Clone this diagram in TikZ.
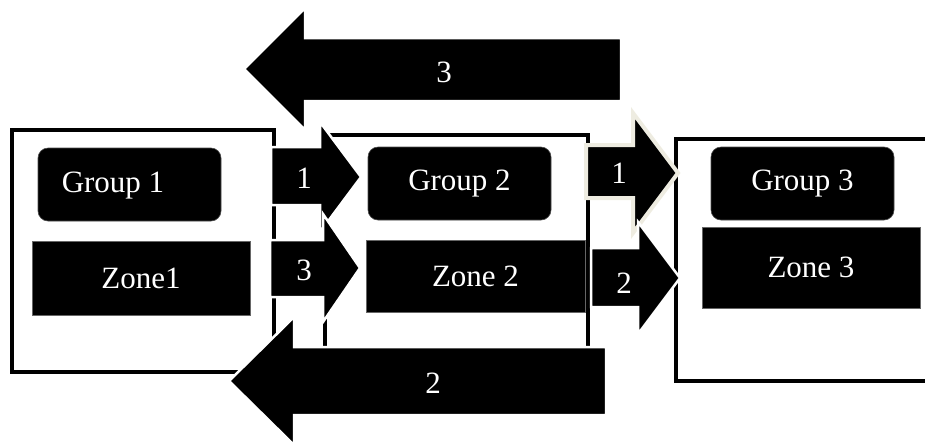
\documentclass[tikz,border=0pt]{standalone}
\usepackage{fontspec}
\setmainfont{Liberation Serif}
\definecolor{cream}{RGB}{238,236,225}
\begin{document}
\begin{tikzpicture}[x=1pt,y=-1pt,
  frame/.style={draw=black,line width=4pt},
  grp/.style={fill=black,draw=black!70,line width=0.6pt,rounded corners=10pt,inner sep=0pt,
    minimum width=183pt,minimum height=73pt,text=white,font=\fontsize{31}{37}\selectfont},
  zone/.style={fill=black,draw=black!60,line width=0.6pt,inner sep=0pt,text=white,
    font=\fontsize{31}{37}\selectfont},
  blk/.style={fill=black,draw=white,line width=2.5pt,line join=miter},
  blkc/.style={fill=black,draw=cream,line width=4pt,line join=miter},
  lbl/.style={text=white,inner sep=0pt,font=\fontsize{31}{37}\selectfont}]
\useasboundingbox (0,0) rectangle (925,445);
% outer frames
\draw[frame] (12,129.5) rectangle (274,371.5);
\draw[frame] (325,135) rectangle (587.5,370);
\draw[frame] (676,138.5) rectangle (945,380.5);
% groups and zones
\node[grp] (g1) at (129.5,184.5) {};
\node[lbl] (g1t) at (113,186) {Group 1};
\node[zone,minimum width=218pt,minimum height=74pt] (z1) at (141,278) {Zone1};
\node[grp] (g2) at (459.5,183.5) {Group 2};
\node[zone,minimum width=219pt,minimum height=72pt] (z2) at (475.5,276) {Zone 2};
\node[grp] (g3) at (802.5,183.5) {Group 3};
\node[zone,minimum width=218pt,minimum height=81pt] (z3) at (811,267.5) {Zone 3};
% small arrows between frames
\draw[blk] (271,147) -- (320,147) -- (320,122) -- (361,177) -- (320,232) -- (320,205) -- (271,205) -- cycle;
\node[lbl] (a1) at (304,178) {1};
\draw[blk] (270,240) -- (323,240) -- (323,214) -- (360,268) -- (323,322) -- (323,297) -- (270,297) -- cycle;
\node[lbl] (a3) at (304,270) {3};
% big arrows
\draw[blk] (621,38) -- (305,38) -- (305,8) -- (244,69) -- (305,130) -- (305,101) -- (621,101) -- cycle;
\node[lbl] (t3) at (444,72) {3};
\draw[blk] (606,347) -- (294,347) -- (294,317) -- (229,381) -- (294,445) -- (294,415) -- (606,415) -- cycle;
\node[lbl] (b2) at (433,383) {2};
% arrows box2 -> box3
\draw[blkc] (586,145) -- (633,145) -- (633,113) -- (678,173) -- (633,233) -- (633,198) -- (586,198) -- cycle;
\node[lbl] (c1) at (619,173) {1};
\draw[blk] (591,248) -- (638,248) -- (638,222) -- (680,278) -- (638,334) -- (638,307) -- (591,307) -- cycle;
\node[lbl] (c2) at (624,283) {2};
\end{tikzpicture}
\end{document}
